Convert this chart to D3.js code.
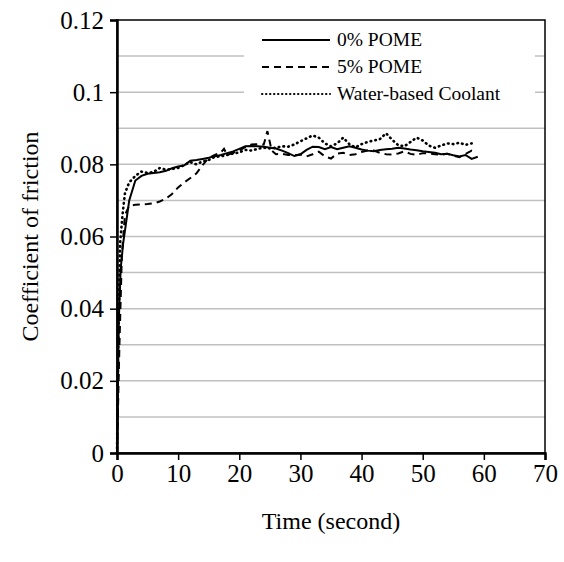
<!DOCTYPE html>
<html>
<head>
<meta charset="utf-8">
<script src="https://cdn.jsdelivr.net/npm/d3@7"></script>
<style>
  body { margin: 0; background: #fff; }
  svg text { fill: #000; }
</style>
</head>
<body>
<svg id="chart"></svg>
<script>
const width = 564;
const height = 562;

// time (s) and coefficient of friction
const pome0Time = [0, 0.3, 0.6, 1, 1.5, 2, 3, 4, 5, 6, 7, 8, 9, 10, 11, 12, 13, 14, 15, 16, 17, 18, 19, 20,
    21, 22, 23, 24, 25, 26, 27, 28, 29, 30, 31, 32, 33, 34, 35, 36, 37, 38, 39, 40, 41, 42, 43, 44, 45,
    46, 47, 48, 49, 50, 51, 52, 53, 54, 55, 56, 57, 58, 59];
const pome0Cof = [0, 0.037, 0.051, 0.058, 0.064, 0.070, 0.0755, 0.0768, 0.0774, 0.0776, 0.0778, 0.0782, 0.0789, 0.0794,
    0.0797, 0.0810, 0.0812, 0.0815, 0.0818, 0.0822, 0.0826, 0.0831, 0.0836, 0.0843, 0.0850, 0.0851, 0.0850,
    0.0849, 0.0846, 0.0844, 0.0838, 0.0831, 0.0823, 0.0828, 0.0840, 0.0849, 0.0848, 0.0842, 0.0848, 0.0842,
    0.0846, 0.0850, 0.0846, 0.0841, 0.0838, 0.0836, 0.0840, 0.0842, 0.0843, 0.0846, 0.0844, 0.0841, 0.0839,
    0.0836, 0.0834, 0.0832, 0.0828, 0.0829, 0.0825, 0.0822, 0.0826, 0.0815, 0.0821];

const pome5Time = [0, 0.4, 0.8, 1.3, 2, 3, 4, 5, 6, 7, 8, 9, 10, 11, 12, 13, 14, 15, 16, 17, 17.5, 18, 19, 20,
    21, 22, 23, 24, 24.6, 25.3, 26, 27, 28, 29, 30, 31, 32, 33, 34, 35, 36, 37, 38, 39, 40, 41, 42, 43, 44,
    45, 46, 47, 48, 49, 50, 51, 52, 53, 54, 55, 56, 57, 58, 58.6];
const pome5Cof = [0, 0.030, 0.055, 0.066, 0.0685, 0.0688, 0.0689, 0.0690, 0.0692, 0.0697, 0.0705, 0.0718, 0.0736,
    0.0750, 0.0762, 0.0775, 0.0798, 0.0818, 0.0826, 0.0833, 0.0843, 0.0826, 0.0832, 0.0838, 0.0848, 0.0855,
    0.0856, 0.0855, 0.0892, 0.0838, 0.0828, 0.0829, 0.0826, 0.0825, 0.0827, 0.0822, 0.0828, 0.0835, 0.0822,
    0.0816, 0.0830, 0.0832, 0.0826, 0.0828, 0.0834, 0.0838, 0.0838, 0.0832, 0.0828, 0.0827, 0.0830, 0.0836,
    0.0829, 0.0826, 0.0831, 0.0830, 0.0828, 0.0826, 0.0829, 0.0824, 0.0820, 0.0829, 0.0838, 0.0832];

const waterTime = [0, 0.2, 0.5, 0.9, 1.3, 2, 3, 4, 5, 6, 7, 8, 9, 10, 11, 12, 13, 14, 15, 16, 17, 18, 19, 20,
    21, 22, 23, 24, 25, 26, 27, 28, 29, 30, 31, 32, 33, 34, 35, 36, 37, 38, 39, 40, 41, 42, 43, 44, 45,
    46, 47, 48, 49, 50, 51, 52, 53, 54, 55, 56, 57, 58];
const waterCof = [0, 0.030, 0.058, 0.066, 0.072, 0.075, 0.0768, 0.0780, 0.0776, 0.0779, 0.0790, 0.0785, 0.0787,
    0.0790, 0.0798, 0.0806, 0.0800, 0.0808, 0.0812, 0.0821, 0.0822, 0.0826, 0.0830, 0.0833, 0.0840, 0.0838,
    0.0843, 0.0846, 0.0844, 0.0846, 0.0850, 0.0849, 0.0855, 0.0864, 0.0872, 0.0880, 0.0874, 0.0858, 0.0850,
    0.0858, 0.0874, 0.0856, 0.0847, 0.0856, 0.0862, 0.0866, 0.0870, 0.0886, 0.0868, 0.0853, 0.0850, 0.0862,
    0.0874, 0.0866, 0.0852, 0.0846, 0.0852, 0.0858, 0.0856, 0.0860, 0.0854, 0.0858];

const xTicks = [0, 10, 20, 30, 40, 50, 60, 70];
const yTicks = [0, 0.02, 0.04, 0.06, 0.08, 0.1, 0.12];
const yGrid = [0.01, 0.02, 0.03, 0.04, 0.05, 0.06, 0.07, 0.08, 0.09, 0.1, 0.11];
const seriesNames = ["0% POME", "5% POME", "Water-based Coolant"];

const serif = "'Liberation Serif', 'Times New Roman', serif";
const margin = { top: 20, right: 19, bottom: 109, left: 117 };

const svg = d3.select("#chart")
    .attr("width", width)
    .attr("height", height);

const x = d3.scaleLinear().domain([0, 70]).range([margin.left, width - margin.right]);
const y = d3.scaleLinear().domain([0, 0.12]).range([height - margin.bottom, margin.top]);

// horizontal gridlines
svg.selectAll(".grid")
    .data(yGrid)
    .enter()
    .append("line")
    .attr("x1", x(0))
    .attr("x2", x(70))
    .attr("y1", d => y(d))
    .attr("y2", d => y(d))
    .attr("stroke", "#c0c0c0")
    .attr("stroke-width", 1.5);

const series = [
    { name: seriesNames[0], t: pome0Time, v: pome0Cof, dash: null, cap: "butt", w: 2 },
    { name: seriesNames[1], t: pome5Time, v: pome5Cof, dash: "7,5", cap: "butt", w: 2 },
    { name: seriesNames[2], t: waterTime, v: waterCof, dash: "0.6,4.2", cap: "round", w: 2.6 }
];

const line = d3.line()
    .x(d => x(d[0]))
    .y(d => y(d[1]));

svg.selectAll(".series")
    .data(series)
    .enter()
    .append("path")
    .attr("fill", "none")
    .attr("stroke", "#000")
    .attr("stroke-width", d => d.w)
    .attr("stroke-linecap", d => d.cap)
    .attr("stroke-dasharray", d => d.dash)
    .attr("d", d => line(d.t.map((t, i) => [t, d.v[i]])));

// plot border
svg.append("rect")
    .attr("x", x(0))
    .attr("y", y(0.12))
    .attr("width", x(70) - x(0))
    .attr("height", y(0) - y(0.12))
    .attr("fill", "none")
    .attr("stroke", "#000")
    .attr("stroke-width", 1.5);

// axes
const xAxis = svg.append("g")
    .attr("transform", `translate(0,${y(0)})`)
    .call(d3.axisBottom(x).tickValues(xTicks).tickSize(7).tickPadding(4).tickFormat(d3.format("d")));
const yAxis = svg.append("g")
    .attr("transform", `translate(${x(0)},0)`)
    .call(d3.axisLeft(y).tickValues(yTicks).tickSize(7).tickPadding(6).tickFormat(d => d === 0 ? "0" : String(+d.toFixed(2))));

[xAxis, yAxis].forEach(g => {
    g.attr("font-family", serif).attr("font-size", 25);
    g.select(".domain").attr("stroke-width", 2.5);
    g.selectAll(".tick line").attr("stroke-width", 1.5);
});

svg.append("text")
    .attr("x", (x(0) + x(70)) / 2)
    .attr("y", 529)
    .attr("text-anchor", "middle")
    .attr("font-family", serif)
    .attr("font-size", 24)
    .text("Time (second)");

svg.append("text")
    .attr("transform", `translate(38,${(y(0) + y(0.12)) / 2}) rotate(-90)`)
    .attr("text-anchor", "middle")
    .attr("font-family", serif)
    .attr("font-size", 24)
    .text("Coefficient of friction");

// legend
const legend = svg.append("g");
legend.append("rect")
    .attr("x", 244)
    .attr("y", 22)
    .attr("width", 291)
    .attr("height", 84)
    .attr("fill", "#fff");

const row = legend.selectAll(".row")
    .data(series)
    .enter()
    .append("g")
    .attr("transform", (d, i) => `translate(262,${40 + i * 27})`);

row.append("line")
    .attr("x1", 0)
    .attr("x2", 68)
    .attr("stroke", "#000")
    .attr("stroke-width", d => d.cap === "round" ? 2 : 2)
    .attr("stroke-linecap", d => d.cap)
    .attr("stroke-dasharray", d => d.cap === "round" ? "0.4,3.6" : d.dash);

row.append("text")
    .attr("x", 75)
    .attr("dy", "0.33em")
    .attr("font-family", serif)
    .attr("font-size", 19.5)
    .text(d => d.name);
</script>
</body>
</html>
